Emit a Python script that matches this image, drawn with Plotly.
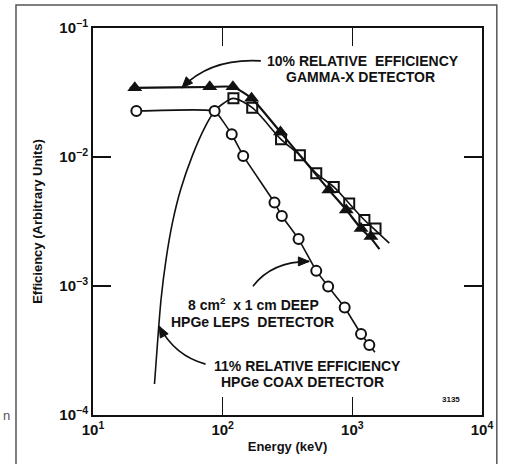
import plotly.graph_objects as go
import math

# ---------------- data ----------------
# 10% relative efficiency GAMMA-X detector (filled triangles)
gx_energy = [21, 79.5, 120, 167, 279, 659, 898, 1167, 1390]
gx_eff = [0.0344, 0.0351, 0.0351, 0.0285, 0.0156, 0.00556, 0.00389, 0.00279, 0.00242]
gx_line_energy = [19.2, 21, 79.5, 120, 167, 279, 659, 898, 1167, 1390, 1618]
gx_line_eff = [0.0344, 0.0344, 0.0349, 0.0349, 0.0285, 0.0156, 0.00556, 0.00389, 0.00279, 0.00235, 0.00193]

# 11% relative efficiency HPGe COAX detector (open squares + curve)
coax_energy = [121, 169, 282, 394, 527, 719, 946, 1239, 1510]
coax_eff = [0.0285, 0.0241, 0.0137, 0.0103, 0.00748, 0.00586, 0.00436, 0.00325, 0.00279]
coax_curve_energy = [29.8, 31.6, 33.5, 36.6, 41.0, 47.5, 58.3, 71.6, 86.7, 101.6,
                     121, 169, 282, 394, 527, 719, 946, 1239, 1510, 1927]
coax_curve_eff = [0.000174, 0.000388, 0.000793, 0.00161, 0.0031, 0.00562, 0.0102, 0.0164, 0.0227, 0.0261,
                  0.0285, 0.0241, 0.0137, 0.0103, 0.00748, 0.00586, 0.00436, 0.00325, 0.00270, 0.00215]

# 8 cm2 x 1 cm deep HPGe LEPS detector (open circles)
leps_energy = [21.6, 86.7, 117.5, 144, 251, 286, 385, 527, 651, 873, 1167, 1352]
leps_eff = [0.0227, 0.0227, 0.0150, 0.0102, 0.00444, 0.00349, 0.00231, 0.00131, 0.000993, 0.000682, 0.000425, 0.000349]
leps_line_energy = [21.6, 86.7, 117.5, 144, 251, 286, 385, 527, 651, 873, 1167, 1352, 1493]
leps_line_eff = [0.0227, 0.0227, 0.0150, 0.0102, 0.00444, 0.00349, 0.00231, 0.00131, 0.000993, 0.000682, 0.000425, 0.000349, 0.000306]

x_tickvals = [10, 100, 1000, 10000]
x_ticktext = ["10<sup>1</sup>", "10<sup>2</sup>", "10<sup>3</sup>", "10<sup>4</sup>"]
y_tickvals = [1e-4, 1e-3, 1e-2, 1e-1]
y_ticktext = ["10<sup>\u22124</sup>", "10<sup>\u22123</sup>", "10<sup>\u22122</sup>", "10<sup>\u22121</sup>"]

# ---------------- layout geometry ----------------
FIG_W, FIG_H = 505, 464
ML, MR, MT, MB = 93, 18, 28, 48
PW = FIG_W - ML - MR
PH = FIG_H - MT - MB
INK = "#111111"
FONT = "Liberation Sans, Arial, sans-serif"


def P(x, y):
    """pixel -> paper coordinates"""
    return (x - ML) / PW, 1 - (y - MT) / PH


fig = go.Figure()

line_style = dict(color=INK, width=1.6)

fig.add_trace(go.Scatter(x=coax_curve_energy, y=coax_curve_eff, mode="lines",
                         line=dict(**line_style, shape="spline", smoothing=0.8),
                         hoverinfo="skip", showlegend=False))
fig.add_trace(go.Scatter(x=gx_line_energy, y=gx_line_eff, mode="lines",
                         line=dict(color=INK, width=2.2, shape="spline", smoothing=0.6),
                         hoverinfo="skip", showlegend=False))
fig.add_trace(go.Scatter(x=leps_line_energy, y=leps_line_eff, mode="lines",
                         line=dict(**line_style, shape="spline", smoothing=0.3),
                         hoverinfo="skip", showlegend=False))

fig.add_trace(go.Scatter(x=coax_energy, y=coax_eff, mode="markers",
                         marker=dict(symbol="square-open", size=10, color=INK,
                                     line=dict(color=INK, width=2)),
                         name="11% HPGe COAX", showlegend=False))
fig.add_trace(go.Scatter(x=gx_energy, y=gx_eff, mode="markers",
                         marker=dict(symbol="triangle-up", size=13, color=INK,
                                     line=dict(color=INK, width=0)),
                         name="10% GAMMA-X", showlegend=False))
fig.add_trace(go.Scatter(x=leps_energy, y=leps_eff, mode="markers",
                         marker=dict(symbol="circle", size=10, color="white",
                                     line=dict(color=INK, width=2)),
                         name="HPGe LEPS", showlegend=False))

# ---------------- annotations (texts) ----------------
texts = [
    (366, 61, "10% RELATIVE  EFFICIENCY", 14),
    (364, 77, "GAMMA-X DETECTOR", 14),
    (256, 305, "8 cm<sup>2</sup>  x 1 cm DEEP", 14),
    (255, 323, "HPGe LEPS  DETECTOR", 14),
    (310, 367, "11% RELATIVE EFFICIENCY", 14),
    (305, 383, "HPGe COAX DETECTOR", 14),
]
annotations = []
for (px, py, t, s) in texts:
    x, y = P(px, py)
    annotations.append(dict(x=x, y=y, xref="paper", yref="paper", text=t, showarrow=False,
                            xanchor="center", yanchor="middle",
                            font=dict(family=FONT, size=s, color=INK, weight="bold")))
x, y = P(467, 407)
annotations.append(dict(x=x, y=y, xref="paper", yref="paper", text="3135", showarrow=False,
                        font=dict(family=FONT, size=8, color=INK, weight="bold")))
x, y = P(0, 416)
annotations.append(dict(x=x, y=y, xref="paper", yref="paper", text="n", showarrow=False,
                        xanchor="left", yanchor="middle",
                        font=dict(family=FONT, size=13, color="#555555")))

# ---------------- curved arrows ----------------
shapes = []


def arrow(p0, c, p1):
    x0, y0 = P(*p0)
    cx, cy = P(*c)
    x1, y1 = P(*p1)
    shapes.append(dict(type="path", xref="paper", yref="paper",
                       path=f"M {x0},{y0} Q {cx},{cy} {x1},{y1}",
                       line=dict(color=INK, width=1.6)))
    # arrowhead (pixel space)
    dx, dy = p1[0] - c[0], p1[1] - c[1]
    n = math.hypot(dx, dy)
    ux, uy = dx / n, dy / n
    L, Wd = 11, 4.5
    bx, by = p1[0] - ux * L, p1[1] - uy * L
    a = P(bx - uy * Wd, by + ux * Wd)
    b = P(bx + uy * Wd, by - ux * Wd)
    t = P(*p1)
    shapes.append(dict(type="path", xref="paper", yref="paper",
                       path=f"M {t[0]},{t[1]} L {a[0]},{a[1]} L {b[0]},{b[1]} Z",
                       fillcolor=INK, line=dict(color=INK, width=1)))


arrow((263, 61), (212, 58), (183, 88))
arrow((255, 287), (274, 262), (312, 262))
arrow((207, 365), (176, 357), (160, 327))

# outer scan frame
fx0, fy0 = P(15, 5)
fx1, fy1 = P(502, 480)
shapes.append(dict(type="rect", xref="paper", yref="paper", x0=fx0, y0=fy1, x1=fx1, y1=fy0,
                   line=dict(color="#555555", width=1.5)))

axis_common = dict(showline=True, linecolor=INK, linewidth=2, mirror="ticks",
                   ticks="inside", ticklen=18, tickwidth=1.6, tickcolor=INK,
                   showgrid=False, zeroline=False,
                   tickfont=dict(family=FONT, size=15, color=INK, weight="bold"))

fig.update_layout(
    width=FIG_W, height=FIG_H,
    margin=dict(l=ML, r=MR, t=MT, b=MB),
    paper_bgcolor="white", plot_bgcolor="white",
    showlegend=False,
    xaxis=dict(type="log", range=[1, 4], tickvals=x_tickvals, ticktext=x_ticktext,
               title=dict(text="Energy (keV)", standoff=5,
                          font=dict(family=FONT, size=13, color=INK, weight="bold")),
               **axis_common),
    yaxis=dict(type="log", range=[-4, -1], tickvals=y_tickvals, ticktext=y_ticktext,
               title=dict(text="Efficiency (Arbitrary Units)", standoff=14,
                          font=dict(family=FONT, size=13, color=INK, weight="bold")),
               **axis_common),
    annotations=annotations,
    shapes=shapes,
)

fig.write_html("out.html",
               config={"displayModeBar": False, "staticPlot": True},
               post_script="document.body.style.margin='0';document.body.style.overflow='hidden';")
